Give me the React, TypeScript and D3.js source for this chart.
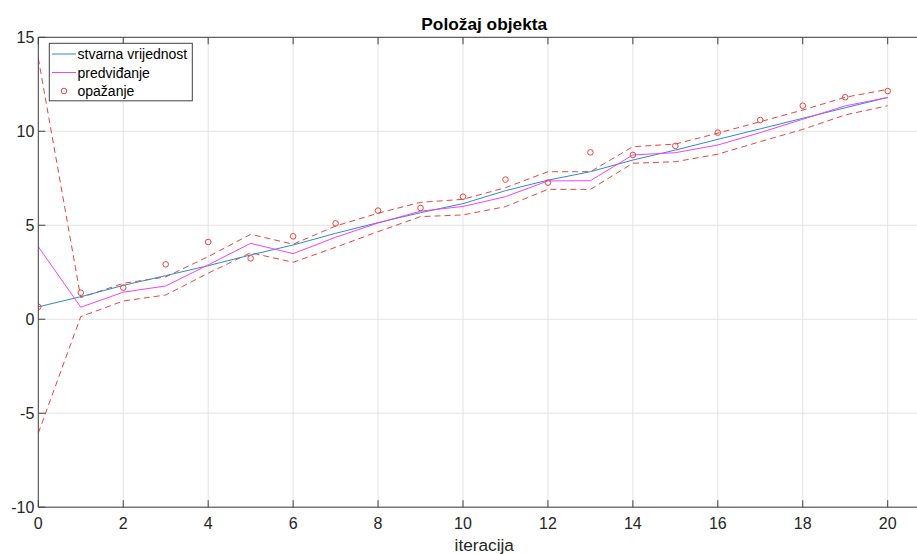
import React from "react";
import * as d3 from "d3";

const iterations = [0, 1, 2, 3, 4, 5, 6, 7, 8, 9, 10, 11, 12, 13, 14, 15, 16, 17, 18, 19, 20];
const truth = [0.66, 1.2, 1.8, 2.32, 2.85, 3.42, 3.95, 4.57, 5.14, 5.67, 6.15, 6.84, 7.4, 7.85, 8.47, 9.0, 9.57, 10.13, 10.69, 11.25, 11.8];
const pred = [3.86, 0.64, 1.44, 1.77, 2.89, 4.04, 3.49, 4.36, 5.12, 5.75, 6.0, 6.52, 7.36, 7.37, 8.74, 8.86, 9.27, 9.93, 10.64, 11.35, 11.8];
const upper = [13.88, 1.15, 1.91, 2.25, 3.33, 4.52, 3.99, 4.96, 5.64, 6.22, 6.38, 7.0, 7.85, 7.85, 9.18, 9.32, 9.9, 10.51, 11.13, 11.81, 12.23];
const lower = [-6.06, 0.14, 0.97, 1.29, 2.45, 3.54, 3.03, 3.83, 4.66, 5.46, 5.55, 5.99, 6.91, 6.91, 8.3, 8.38, 8.78, 9.45, 10.1, 10.87, 11.36];
const obs = [0.66, 1.41, 1.68, 2.92, 4.11, 3.24, 4.41, 5.1, 5.78, 5.92, 6.52, 7.43, 7.27, 8.88, 8.74, 9.22, 9.93, 10.6, 11.36, 11.81, 12.14];

const xTicks = [0, 2, 4, 6, 8, 10, 12, 14, 16, 18, 20];
const yTicks = [-10, -5, 0, 5, 10, 15];

const title = "Položaj objekta";
const xLabel = "iteracija";
const legendLabels = ["stvarna vrijednost", "predviđanje", "opažanje"];

const W = 917;
const H = 554;
const FONT = "'Liberation Sans', Arial, Helvetica, sans-serif";
const AXIS = "#404040";
const GRID = "#e3e3e3";
const RED = "#e8453f";

export default function App() {
  const x = d3.scaleLinear().domain([0, 20]).range([38.3, 887.7]);
  const y = d3.scaleLinear().domain([-10, 15]).range([507.2, 37.3]);
  const left = x(0);
  const right = x(21);
  const top = y(15);
  const bottom = y(-10);
  const cx = (left + right) / 2;

  const line = d3
    .line<number>()
    .x((_, i) => x(iterations[i]))
    .y((d) => y(d));

  return (
    <svg
      width={W}
      height={H}
      style={{ position: "absolute", left: 0, top: 0, background: "#fff" }}
      fontFamily={FONT}
    >
      <defs>
        <clipPath id="plot">
          <rect x={left} y={top} width={right - left} height={bottom - top} />
        </clipPath>
      </defs>
      <rect x={0} y={0} width={W} height={H} fill="#fff" />
      {/* grid */}
      {xTicks.map((t) => (
        <line key={"gx" + t} x1={x(t)} x2={x(t)} y1={top} y2={bottom} stroke={GRID} strokeWidth={1} />
      ))}
      {yTicks.map((t) => (
        <line key={"gy" + t} x1={left} x2={right} y1={y(t)} y2={y(t)} stroke={GRID} strokeWidth={1} />
      ))}

      <g clipPath="url(#plot)">
        <path d={line(upper) || ""} fill="none" stroke={RED} strokeWidth={1} strokeDasharray="6,4" />
        <path d={line(lower) || ""} fill="none" stroke={RED} strokeWidth={1} strokeDasharray="6,4" />
        <path d={line(truth) || ""} fill="none" stroke="#2e8bc4" strokeWidth={1} />
        <path d={line(pred) || ""} fill="none" stroke="#f542f5" strokeWidth={1} />
        {obs.map((v, i) => (
          <circle key={"o" + i} cx={x(iterations[i])} cy={y(v)} r={2.8} fill="none" stroke={RED} strokeWidth={1} />
        ))}
      </g>

      {/* axes */}
      <line x1={left} x2={right} y1={bottom} y2={bottom} stroke={AXIS} strokeWidth={1} />
      <line x1={left} x2={right} y1={top} y2={top} stroke={AXIS} strokeWidth={1} />
      <line x1={left} x2={left} y1={top} y2={bottom} stroke={AXIS} strokeWidth={1} />
      {xTicks.map((t) => (
        <g key={"tx" + t}>
          <line x1={x(t)} x2={x(t)} y1={bottom} y2={bottom - 7} stroke={AXIS} />
          <line x1={x(t)} x2={x(t)} y1={top} y2={top + 7} stroke={AXIS} />
          <text x={x(t)} y={bottom + 21.5} textAnchor="middle" fontSize={16} fill="#262626">
            {t}
          </text>
        </g>
      ))}
      {yTicks.map((t) => (
        <g key={"ty" + t}>
          <line x1={left} x2={left + 7} y1={y(t)} y2={y(t)} stroke={AXIS} />
          <text x={left - 4} y={y(t) + 5.5} textAnchor="end" fontSize={16} fill="#262626">
            {t}
          </text>
        </g>
      ))}

      <text x={cx} y={30} textAnchor="middle" fontSize={17.3} fontWeight="bold" fill="#000">
        {title}
      </text>
      <text x={cx} y={551} textAnchor="middle" fontSize={17.2} fill="#262626">
        {xLabel}
      </text>

      {/* legend */}
      <g>
        <rect x={49.3} y={43.3} width={143} height={57.5} fill="#fff" stroke={AXIS} strokeWidth={1} />
        <line x1={52} x2={76} y1={54} y2={54} stroke="#2e8bc4" strokeWidth={1} />
        <line x1={52} x2={76} y1={72.5} y2={72.5} stroke="#f542f5" strokeWidth={1} />
        <circle cx={64} cy={91} r={2.8} fill="none" stroke={RED} strokeWidth={1} />
        {legendLabels.map((l, i) => (
          <text key={l} x={77.5} y={59 + i * 18.5} fontSize={14} fill="#000">
            {l}
          </text>
        ))}
      </g>
    </svg>
  );
}
